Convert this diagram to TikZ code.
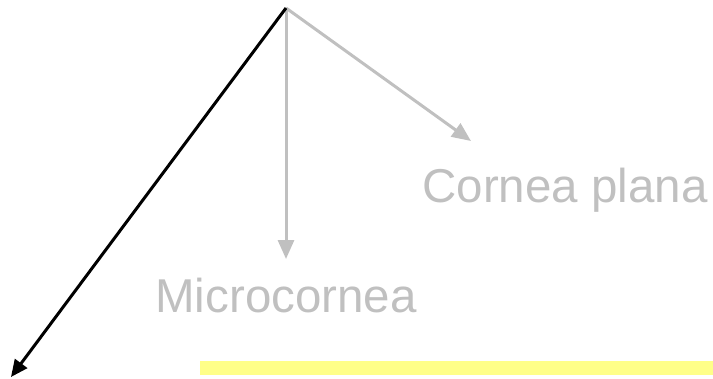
\documentclass[tikz,border=0pt]{standalone}
\usepackage{fontspec}
\setmainfont{Liberation Sans}
\usetikzlibrary{arrows.meta}
\definecolor{lightgrey}{HTML}{C0C0C0}
\definecolor{paleyellow}{HTML}{FFFF88}
\tikzset{
  greyarrow/.style={draw=lightgrey, line width=3pt, -{Triangle[length=19pt,width=16pt]}},
  blackarrow/.style={draw=black, line width=3pt, -{Triangle[length=17pt,width=15pt]}},
  label/.style={text=lightgrey, font=\fontsize{47.5}{52}\selectfont, inner sep=0pt, anchor=base}
}
\begin{document}
\begin{tikzpicture}[x=1pt, y=-1pt]
  \useasboundingbox (0,0) rectangle (713,378);
  % yellow strip along the bottom
  \fill[paleyellow] (200,361) rectangle (713,375);
  % branching point and arrow ends
  \coordinate (apex) at (286,8);
  \coordinate (farleft) at (11,377);
  \coordinate (plana tip) at (471,141);
  \coordinate (micro tip) at (286,259);
  \node[label] (plana) at (565,202) {Cornea plana};
  \node[label] (micro) at (286,312) {Microcornea};
  \draw[greyarrow] (apex) -- (plana tip);
  \draw[greyarrow] (apex) -- (micro tip);
  \draw[blackarrow] (apex) -- (farleft);
\end{tikzpicture}
\end{document}
